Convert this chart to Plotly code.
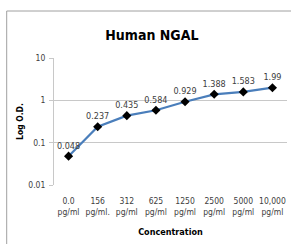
import plotly.graph_objects as go

categories = ["0.0<br>pg/ml", "156<br>pg/ml.", "312<br>pg/ml", "625<br>pg/ml",
              "1250<br>pg/ml", "2500<br>pg/ml", "5000<br>pg/ml", "10,000<br>pg/ml"]
od_values = [0.048, 0.237, 0.435, 0.584, 0.929, 1.388, 1.583, 1.99]
value_labels = ["0.048", "0.237", "0.435", "0.584", "0.929", "1.388", "1.583", "1.99"]
y_ticks = [0.01, 0.1, 1, 10]
y_tick_labels = ["0.01", "0.1", "1", "10"]

FONT = "DejaVu Sans Condensed, Liberation Sans Narrow, sans-serif"
GRID = "#c8c8c8"

fig = go.Figure()
fig.add_trace(go.Scatter(
    x=list(range(len(categories))), y=od_values,
    mode="lines+markers+text",
    line=dict(color="#4a7ebb", width=2.2),
    marker=dict(symbol="diamond", size=7, color="black"),
    text=value_labels, textposition="top center",
    textfont=dict(family=FONT, size=9, color="#404040"),
    cliponaxis=False, showlegend=False,
))

shapes = []
for i in range(len(categories) + 1):
    shapes.append(dict(type="line", xref="x", yref="y", ysizemode="pixel",
                       yanchor=0, x0=i - 0.5, x1=i - 0.5, y0=0, y1=-5,
                       line=dict(color=GRID, width=1)))
shapes.append(dict(type="rect", xref="paper", yref="paper",
                   x0=-0.203, x1=1.05, y0=-0.5, y1=1.37,
                   line=dict(color="#a0a0a0", width=1), layer="below"))
shapes.append(dict(type="line", xref="paper", yref="y", x0=0, x1=1, y0=0, y1=0,
                   line=dict(color=GRID, width=1)))

fig.update_layout(
    width=291, height=244,
    margin=dict(l=54, r=4, t=58, b=59, autoexpand=False),
    paper_bgcolor="white", plot_bgcolor="white",
    title=dict(text="<b>Human NGAL</b>", xref="paper", x=0.42, xanchor="center",
               yref="container", y=0.857, yanchor="middle",
               font=dict(family=FONT, size=14, color="black")),
    xaxis=dict(range=[-0.5, 7.5], tickmode="array", tickvals=list(range(len(categories))),
               ticktext=categories, showgrid=False, zeroline=False, showline=False,
               ticks="", ticklabelstandoff=9, automargin=False,
               tickfont=dict(family=FONT, size=8.5, color="#404040"),
               title=dict(text="<b>Concentration</b>", standoff=13,
                          font=dict(family=FONT, size=9, color="black"))),
    yaxis=dict(type="log", range=[-2, 1], tickmode="array", tickvals=y_ticks,
               ticktext=y_tick_labels, showgrid=True, gridcolor=GRID, gridwidth=1,
               zeroline=False, showline=True, linecolor=GRID, ticks="outside",
               ticklen=4, tickcolor=GRID, ticklabelstandoff=2, automargin=False,
               tickfont=dict(family=FONT, size=8.5, color="#404040"),
               title=dict(text="<b>Log O.D.</b>", standoff=3,
                          font=dict(family=FONT, size=8.5, color="black"))),
    shapes=shapes,
)

fig.write_html("out.html", config={"displayModeBar": False},
               post_script="document.body.style.margin='0';document.body.style.overflow='hidden';")
